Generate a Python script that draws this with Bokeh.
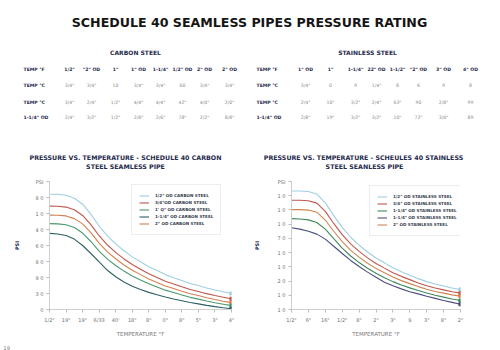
from bokeh.plotting import figure
from bokeh.layouts import column, row
from bokeh.models import Range1d, FixedTicker, Legend, LegendItem
from bokeh.core.properties import value
from bokeh.embed import file_html
from bokeh.resources import INLINE

# ---------------- data ----------------
page_title = "SCHEDULE 40 SEAMLESS PIPES PRESSURE RATING"
page_number = "19"

carbon_title = "CARBON STEEL"
carbon_header = ["TEMP °F", '1/2"', '"2" OD', '1"', '1" OD', '1-1/4"', '1/2" OD', '2" OD', '2" OD']
carbon_row_labels = ["TEMP °C", "TEMP °C", '1-1/4" OD']
carbon_row1 = ['3/4"', '3/4"', '10', '3/4"', '3/4"', '60', '3/4"', '3/4"']
carbon_row2 = ['3/4"', '2/4"', '1/2"', '4/4"', '4/4"', '42"', '4/0"', '2/0"']
carbon_row3 = ['2/4"', '3/2"', '1/2"', '2/8"', '2/6"', '78"', '2/2"', '8/8"']

stainless_title = "STAINLESS STEEL"
stainless_header = ["TEMP °F", '1" OD', '1"', '1-1/4"', '22" OD', '1-1/2"', '"2" OD', '3" OD', '4" OD']
stainless_row_labels = ["TEMP °C", "TEMP °C", '1-1/4" OD']
stainless_row1 = ['3/4"', '0', '9', '1/4"', '8', '6', '9', '8']
stainless_row2 = ['2/4"', '10"', '3/2"', '2/4"', '63"', '90', '2/8"', '99']
stainless_row3 = ['2/8"', '19"', '3/2"', '3/2"', '10"', '72"', '3/0"', '89']

carbon_chart_title = ["PRESSURE VS. TEMPERATURE - SCHEDULE 40 CARBON", "STEEL SEAMLESS PIPE"]
stainless_chart_title = ["PRESSURE VS. TEMPERATURE - SCHEULES 40 STAINLESS", "STEEL SEANLESS PIPE"]

# carbon chart
carbon_xticks = ['1/2"', '19"', '19"', '6/33', "40'", '18"', '8"', '0"', '8"', '5"', '3"', '4"']
carbon_yticks = ["0", "3 0", "9 0", "8 0", "6 0", "4 0", "1 0", "8 0", "PSI"]
carbon_pos = [0, 0.5, 1, 1.5, 2, 2.5, 3, 3.5, 4, 4.5, 5, 5.5, 6, 6.5, 7, 7.5, 8, 8.5, 9, 9.5, 10, 10.5, 11]
carbon_labels = ['1/2" OD CARBON STEEL', '3/4"OD CARBON STEEL', '1\' Q" OD CARBON STEEL',
                 '1-1/4" OD CARBON STEEL', '2" OD CARBON STEEL']
carbon_half = [7.2, 7.2, 7.14, 6.95, 6.58, 5.96, 5.22, 4.6, 4.1, 3.67, 3.29, 2.98, 2.67, 2.43, 2.18, 1.99, 1.81, 1.62, 1.5, 1.34, 1.22, 1.11, 1.0]
carbon_34 = [6.46, 6.45, 6.40, 6.23, 5.88, 5.30, 4.61, 4.03, 3.57, 3.16, 2.81, 2.52, 2.23, 2.0, 1.77, 1.6, 1.42, 1.25, 1.13, 0.99, 0.87, 0.77, 0.67]
carbon_1 = [5.37, 5.35, 5.30, 5.12, 4.78, 4.25, 3.65, 3.15, 2.75, 2.40, 2.10, 1.85, 1.61, 1.41, 1.21, 1.06, 0.91, 0.76, 0.65, 0.53, 0.42, 0.33, 0.24]
carbon_114 = [4.76, 4.72, 4.62, 4.40, 4.00, 3.50, 2.97, 2.45, 2.05, 1.72, 1.45, 1.25, 1.07, 0.92, 0.78, 0.66, 0.55, 0.44, 0.35, 0.26, 0.18, 0.11, 0.05]
carbon_2 = [5.9, 5.89, 5.85, 5.68, 5.35, 4.81, 4.15, 3.6, 3.17, 2.78, 2.45, 2.18, 1.91, 1.69, 1.47, 1.31, 1.14, 0.98, 0.87, 0.73, 0.62, 0.52, 0.43]

# stainless chart
stainless_xticks = ['1/2"', '6"', '16"', '1/2"', '8"', '2"', '3"', '9', '3"', '8"', '2"']
stainless_yticks = ["1 0", "1 0", "2 0", "1 0", "1 0", "7 0", "1 0", "1 0", "1 0", "PSI"]
stainless_pos = [0, 0.5, 1, 1.5, 2, 2.5, 3, 3.5, 4, 4.5, 5, 5.5, 6, 6.5, 7, 7.5, 8, 8.5, 9, 9.5, 10]
stainless_labels = ['1/2" OD STAINLESS STEEL', '3/4" OD STAINLESS STEEL', '1-1/4" OD STAINLESS STEEL',
                    '1-1/4" OD STAINLESS STEEL', '2" OD STAINLESS STEEL']
stainless_half = [8.33, 8.33, 8.30, 8.12, 7.5, 6.6, 5.77, 5.08, 4.52, 4.04, 3.62, 3.28, 2.93, 2.66, 2.41, 2.17, 1.96, 1.79, 1.65, 1.51, 1.41]
stainless_34 = [7.68, 7.68, 7.65, 7.48, 6.90, 6.05, 5.26, 4.61, 4.09, 3.63, 3.24, 2.91, 2.59, 2.33, 2.10, 1.87, 1.67, 1.51, 1.38, 1.25, 1.15]
stainless_114a = [6.39, 6.36, 6.30, 6.12, 5.65, 4.98, 4.32, 3.76, 3.30, 2.90, 2.55, 2.24, 1.96, 1.73, 1.52, 1.33, 1.16, 1.00, 0.87, 0.74, 0.63]
stainless_114b = [5.75, 5.65, 5.50, 5.30, 4.95, 4.45, 3.94, 3.45, 3.02, 2.63, 2.27, 1.92, 1.67, 1.45, 1.25, 1.10, 0.93, 0.78, 0.63, 0.50, 0.37]
stainless_2 = [7.02, 7.02, 6.99, 6.84, 6.29, 5.50, 4.77, 4.16, 3.68, 3.25, 2.89, 2.58, 2.28, 2.03, 1.82, 1.61, 1.43, 1.27, 1.15, 1.03, 0.94]

# ---------------- styles ----------------
NAVY = "#1f2a4d"
GREY = "#8a8a8a"
FONT = "DejaVu Sans"
LIGHTBLUE = "#9fcfe2"
RED = "#c0574f"
ORANGE = "#d4814f"
GREEN = "#4a9a6e"
DARKTEAL = "#2d6163"
SGREEN = "#3f8a5a"
SPURPLE = "#4a4f80"
STAN = "#cf8650"


def txt(fig, xs, ys, texts, size, color, bold=False, align="center"):
    # alphabetic baseline, shifted so that the capitals are centred on ys
    off = 0.36 * float(size.replace("px", ""))
    fig.text(x=xs, y=[y + off for y in ys], text=texts, text_font=value(FONT),
             text_font_size=value(size),
             text_font_style="bold" if bold else "normal", text_color=color,
             text_align=align, text_baseline="alphabetic")


def blank(w, h):
    f = figure(width=w, height=h, x_range=Range1d(0, w), y_range=Range1d(h, 0),
               toolbar_location=None, output_backend="svg", min_border=0)
    f.axis.visible = False
    f.grid.visible = False
    f.outline_line_color = None
    return f


# ---------------- header (title, tables, chart titles) ----------------
top = blank(500, 170)
txt(top, [249], [17], [page_title], "12.6px", "#151515", True)

ROW_Y = [67, 83, 100, 115]


def table(fig, title, title_x, label_x, col_x, header, row_labels, rows):
    txt(fig, [title_x], [50], [title], "6px", NAVY, True)
    txt(fig, [label_x], [ROW_Y[0]], [header[0]], "4.6px", NAVY, True, "left")
    txt(fig, col_x, [ROW_Y[0]] * len(col_x), header[1:], "4.6px", NAVY, True)
    txt(fig, [label_x] * len(row_labels), ROW_Y[1:], row_labels, "4.6px", NAVY, True, "left")
    for r, vals in enumerate(rows):
        txt(fig, col_x, [ROW_Y[r + 1]] * len(col_x), vals, "4.6px", GREY)


table(top, carbon_title, 135, 23, [69, 91, 115, 138, 160, 182, 204, 229],
      carbon_header, carbon_row_labels, [carbon_row1, carbon_row2, carbon_row3])
table(top, stainless_title, 367, 256, [305, 330, 355, 376, 397, 418, 443, 470],
      stainless_header, stainless_row_labels, [stainless_row1, stainless_row2, stainless_row3])

txt(top, [125, 125], [155, 163.5], carbon_chart_title, "6.3px", NAVY, True)
txt(top, [363, 364], [155, 163.5], stainless_chart_title, "6.3px", NAVY, True)


# ---------------- charts ----------------
def chart(xpos, series, draw_colors, legend_order, labels, xticks, yticks,
          bl, br, bt, legend_loc, ystandoff):
    xmax = len(xticks) - 1
    ymax = len(yticks) - 1
    p = figure(width=250, height=170, x_range=Range1d(0, xmax), y_range=Range1d(0, ymax),
               toolbar_location=None, output_backend="svg",
               min_border_left=bl, min_border_right=br, min_border_top=bt, min_border_bottom=31)
    p.grid.visible = False
    p.outline_line_color = None
    p.background_fill_color = None
    p.border_fill_color = None

    p.xaxis.ticker = FixedTicker(ticks=list(range(len(xticks))))
    p.xaxis.major_label_overrides = {i: t for i, t in enumerate(xticks)}
    p.yaxis.ticker = FixedTicker(ticks=list(range(len(yticks))))
    p.yaxis.major_label_overrides = {i: t for i, t in enumerate(yticks)}
    for ax in (p.xaxis[0], p.yaxis[0]):
        ax.axis_line_color = "#cfcfcf"
        ax.major_tick_line_color = "#bdbdbd"
        ax.minor_tick_line_color = None
        ax.major_tick_in = 0
        ax.major_tick_out = 3
        ax.major_label_text_font = FONT
        ax.major_label_text_font_size = "5px"
        ax.major_label_text_color = "#6f6f6f"
    p.xaxis.major_label_standoff = 4
    p.xaxis.axis_label = "TEMPERATURE °F"
    p.xaxis.axis_label_text_font = FONT
    p.xaxis.axis_label_text_font_size = "5.5px"
    p.xaxis.axis_label_text_font_style = "normal"
    p.xaxis.axis_label_text_color = "#7a7a7a"
    p.xaxis.axis_label_standoff = 5
    p.yaxis.major_label_standoff = 3
    p.yaxis.axis_label = "PSI"
    p.yaxis.axis_label_text_font = FONT
    p.yaxis.axis_label_text_font_size = "5px"
    p.yaxis.axis_label_text_font_style = "bold"
    p.yaxis.axis_label_text_color = NAVY
    p.yaxis.axis_label_standoff = ystandoff

    renderers = []
    for ys, c in zip(series, draw_colors):
        r = p.line(xpos, ys, line_color=c, line_width=1.1)
        p.scatter([xpos[-1]], [ys[-1]], marker="square", size=3.2, color=c)
        renderers.append(r)

    items = [LegendItem(label=labels[k], renderers=[renderers[i]]) for k, i in enumerate(legend_order)]
    leg = Legend(items=items, location=legend_loc, orientation="vertical",
                 label_text_font=FONT, label_text_font_size="4.1px", label_text_font_style="bold",
                 label_text_color="#333a4d", glyph_width=10, glyph_height=7, label_height=7,
                 label_standoff=6, spacing=0, padding=7, margin=0,
                 border_line_color="#dcdcdc", border_line_width=1,
                 background_fill_color="white", background_fill_alpha=1)
    p.add_layout(leg)
    return p


left = chart(carbon_pos,
             [carbon_half, carbon_34, carbon_2, carbon_1, carbon_114],
             [LIGHTBLUE, RED, ORANGE, GREEN, DARKTEAL],
             [0, 1, 3, 4, 2], carbon_labels, carbon_xticks, carbon_yticks,
             49, 19, 8, (82, 74), 13)

right = chart(stainless_pos,
              [stainless_half, stainless_34, stainless_2, stainless_114a, stainless_114b],
              [LIGHTBLUE, RED, STAN, SGREEN, SPURPLE],
              [0, 1, 3, 4, 2], stainless_labels, stainless_xticks, stainless_yticks,
              38, 40, 11, (78, 73), 15)

bottom = blank(500, 10)
txt(bottom, [3], [3.8], [page_number], "5px", "#777777", False, "left")

layout = column(top, row(left, right, spacing=0), bottom, spacing=0)

open("out.html", "w").write(file_html(layout, INLINE))
